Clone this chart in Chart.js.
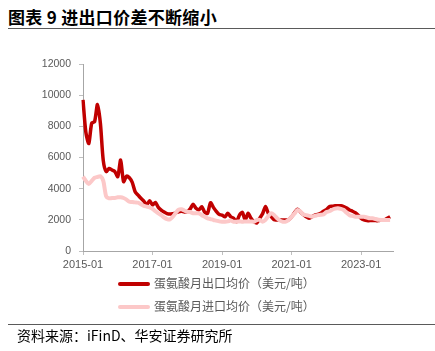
<!DOCTYPE html>
<html>
<head>
<meta charset="utf-8">
<script src="https://cdn.jsdelivr.net/npm/chart.js@4/dist/chart.umd.min.js"></script>
<style>
  body { margin: 0; width: 435px; height: 351px; background: #fff; position: relative; overflow: hidden; font-family: "Noto Sans CJK SC", sans-serif; }
  #title { position: absolute; left: 8px; top: 4px; font-size: 17px; font-weight: bold; color: #000; letter-spacing: 0.3px; }
  #topline { position: absolute; left: 8px; right: 0; top: 28px; height: 0; border-top: 1.5px solid #5a5a5a; }
  #chartbox { position: absolute; left: 0; top: 40px; }
  .leg { position: absolute; left: 118px; font-size: 12px; color: #595959; line-height: 14px; }
  .leg span { display: inline-block; width: 32px; height: 4px; border-radius: 2px; vertical-align: middle; margin-right: 4px; position: relative; top: -1px; }
  #botline { position: absolute; left: 8px; right: 0; top: 324px; height: 0; border-top: 1.5px solid #5a5a5a; }
  #source { position: absolute; left: 17px; top: 325px; font-size: 14px; color: #000; }
</style>
</head>
<body>
<div id="title">图表 9 进出口价差不断缩小</div>
<div id="topline"></div>
<div id="chartbox"><canvas id="priceChart" width="435" height="240"></canvas></div>
<div class="leg" style="top:276px"><span style="background:#c00000"></span>蛋氨酸月出口均价（美元/吨）</div>
<div class="leg" style="top:299px"><span style="background:#fcc8c8"></span>蛋氨酸月进口均价（美元/吨）</div>
<div id="botline"></div>
<div id="source">资料来源：iFinD、华安证券研究所</div>

<script>
// monthly labels 2015-01 .. 2023-12
let months = []
for (let y = 2015; y <= 2023; y++) {
  for (let m = 1; m <= 12; m++) {
    months.push(y + "-" + (m < 10 ? "0" + m : m))
  }
}

// export price, USD/t (2015-01 .. 2023-11)
const export_price = [
  9700, 7600, 6900, 8200, 8300, 9400, 8200, 5800, 5100, 5300, 5200, 5100,
  4770, 5840, 4450, 4800, 4700, 4400, 3800, 3590, 3380, 3200, 2950, 3230,
  2950, 3120, 2800, 2630, 2500, 2400, 2370, 2400, 2450, 2520, 2550, 2500,
  2520, 2700, 3000, 2740, 2640, 2840, 2500, 2420, 3100, 2800, 2550, 2350,
  2300, 2200, 2420, 2200, 2100, 1880, 2300, 2480, 1990, 2420, 2100, 1880,
  1800, 2100, 2400, 2850, 2400, 2200, 2000, 1990, 1990, 1990, 1990, 2000,
  2200, 2450, 2680, 2520, 2350, 2200, 2100, 2200, 2300, 2350, 2420, 2550,
  2650, 2840, 2870, 2900, 2900, 2900, 2840, 2750, 2630, 2550, 2450, 2300,
  2100, 2000, 1950, 1950, 1950, 1950, 1950, 1990, 2000, 2100, 2200
]

// import price, USD/t
const import_price = [
  4770, 4500, 4300, 4500, 4700, 4750, 4800, 4500, 3500, 3380, 3400, 3400,
  3450, 3450, 3400, 3300, 3160, 3150, 3120, 3100, 3000, 2900, 2850, 2800,
  2700, 2550, 2420, 2300, 2150, 2050, 2030, 2200, 2450, 2650, 2680, 2600,
  2520, 2500, 2420, 2420, 2420, 2300, 2200, 2100, 2050, 1990, 1950, 1900,
  1880, 1880, 1900, 1950, 1880, 1880, 1900, 1880, 1900, 1900, 1900, 1880,
  1990, 2000, 1880, 2000, 2250, 2420, 2300, 2100, 1950, 1880, 1880, 2000,
  2200, 2400, 2630, 2550, 2350, 2300, 2250, 2200, 2250, 2300, 2320, 2350,
  2500, 2550, 2650, 2720, 2740, 2700, 2630, 2450, 2300, 2250, 2200, 2200,
  2200, 2200, 2150, 2100, 2100, 2050, 2000, 1990, 1990, 1990, 1990
]

const y_ticks = [0, 2000, 4000, 6000, 8000, 10000, 12000]

const tickFont = { family: "'Liberation Sans', Arial, sans-serif", size: 11 }

new Chart(document.getElementById("priceChart"), {
  type: "line",
  data: {
    labels: months,
    datasets: [{
      label: "蛋氨酸月出口均价（美元/吨）",
      data: export_price,
      borderColor: "#c00000",
      borderWidth: 3.5,
      pointRadius: 0,
      tension: 0.25,
      order: 1
    }, {
      label: "蛋氨酸月进口均价（美元/吨）",
      data: import_price,
      borderColor: "#fcc8c8",
      borderWidth: 4,
      pointRadius: 0,
      tension: 0.25,
      order: 0
    }]
  },
  options: {
    responsive: false,
    animation: false,
    layout: { padding: { left: 0, top: 24, right: 42, bottom: 4 } },
    plugins: { legend: { display: false }, tooltip: { enabled: false } },
    scales: {
      x: {
        offset: false,
        grid: { drawOnChartArea: false, tickLength: 4, color: "#bfbfbf" },
        border: { color: "#a6a6a6" },
        ticks: {
          autoSkip: false, maxRotation: 0, padding: 3, color: "#595959", font: tickFont,
          callback: (v, i) => i % 24 === 0 ? months[i] : null
        },
        afterFit: s => { s.height = 25 }
      },
      y: {
        min: 0, max: 12000,
        afterBuildTicks: s => { s.ticks = y_ticks.map(v => ({ value: v })) },
        grid: { drawOnChartArea: false, tickLength: 4, color: "#bfbfbf" },
        border: { color: "#a6a6a6" },
        ticks: {
          padding: 8, color: "#595959", font: { family: tickFont.family, size: 10.5 },
          callback: v => String(v)
        },
        afterFit: s => { s.width = 83 }
      }
    }
  }
})
</script>
</body>
</html>
